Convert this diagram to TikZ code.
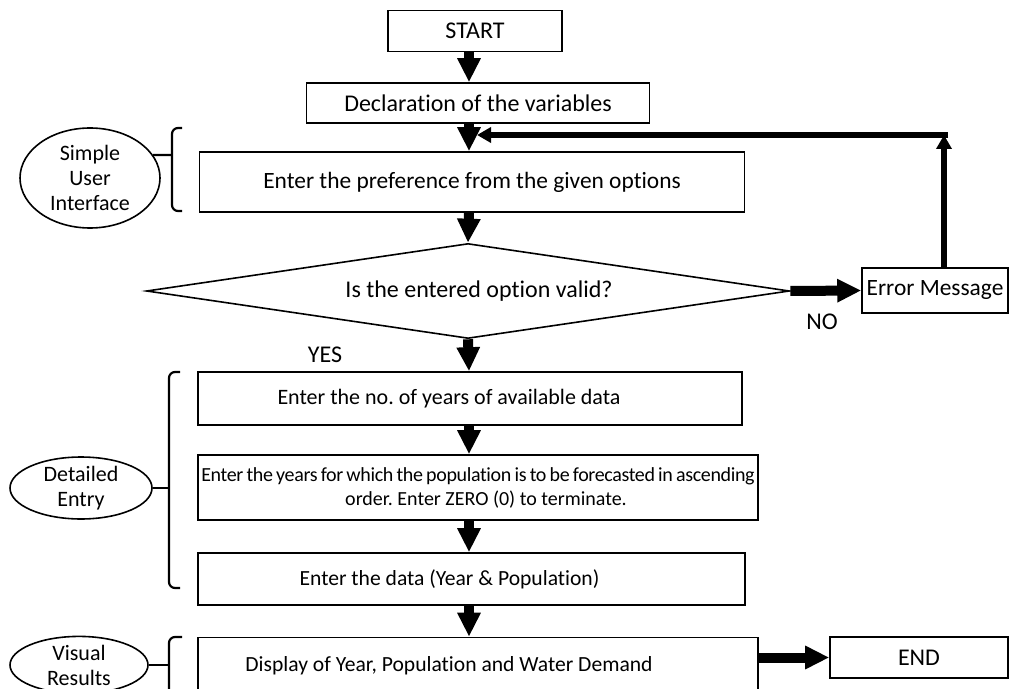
\documentclass[tikz,border=0pt]{standalone}
\usepackage{fontspec}
\setmainfont{Carlito}[Ligatures=NoCommon]
\usepackage{tikz}
\usetikzlibrary{arrows.meta,positioning,shapes.geometric}
\newcommand{\fs}[1]{\fontsize{#1}{1.2\dimexpr#1pt\relax}\selectfont\frenchspacing}
\newcommand{\tight}[1]{{\addfontfeature{LetterSpace=-1.8}\spaceskip=0.16em\relax #1}}
\tikzset{
  pbox/.style={draw,line width=0.8pt,align=center,font=\fs{12},inner sep=1.5pt},
  tag/.style={draw,ellipse,line width=0.8pt,align=center,font=\fontsize{11}{12.5}\selectfont,inner sep=0pt},
  flow/.style={-{Triangle[length=12pt,width=11pt]},line width=5pt},
  fback/.style={-{Triangle[length=7pt,width=7.5pt]},line width=3pt},
  brk/.style={line width=1.1pt,rounded corners=3pt},
  lbl/.style={font=\fs{12},inner sep=1pt},
}
\begin{document}
\begin{tikzpicture}[x=0.5pt,y=-0.5pt]
  \useasboundingbox (0,0) rectangle (1010,689);
  % main column
  \node[pbox,minimum width=87pt,minimum height=20.5pt] (start) at (475,31) {START};
  \node[pbox,minimum width=171.5pt,minimum height=20pt] (decl) at (478,103) {Declaration of the variables};
  \node[pbox,minimum width=272.5pt,minimum height=30pt,font=\fs{11.7}] (pref) at (472,182) {Enter the preference from the given options};
  \node[pbox,diamond,aspect=6.77,minimum width=321.5pt,minimum height=47.5pt,inner sep=0pt] (valid) at (468,291) {\hspace*{11pt}Is the entered option valid?};
  \node[pbox,minimum width=73pt,minimum height=22.5pt,font=\fs{11.7}] (err) at (935,290.5) {Error Message};
  \node[pbox,minimum width=272pt,minimum height=26.5pt,font=\fs{11}] (years) at (470,398.5) {Enter the no. of years of available data\hspace*{21pt}};
  \node[pbox,minimum width=280pt,minimum height=32.5pt,font=\fs{10},inner sep=1pt] (fcast) at (478,487.5) {\tight{Enter the years for which the population is to be forecasted in ascending}\\ \hspace*{8pt}order. Enter ZERO (0) to terminate.};
  \node[pbox,minimum width=273.5pt,minimum height=26pt,font=\fs{10.8}] (data) at (471.5,579) {Enter the data (Year \& Population)\hspace*{22pt}};
  \node[pbox,minimum width=280pt,minimum height=31pt,font=\fs{10.8}] (show) at (478,668.5) {\raisebox{5pt}{Display of Year, Population and Water Demand}\hspace*{29pt}};
  \node[pbox,minimum width=89pt,minimum height=20.5pt] (end) at (919,657.5) {END};
  \coordinate (spine) at (469,0);
  \coordinate (loop) at (944,135);
  % connectors
  \draw[flow] (spine |- start.south) -- (spine |- decl.north);
  \draw[flow] (spine |- decl.south) -- (spine |- pref.north);
  \draw[flow] (spine |- pref.south) -- (valid.north);
  \draw[flow] (valid.east) -- (err.west);
  \draw[flow] (valid.south) -- (spine |- years.north);
  \draw[flow] (spine |- years.south) -- (spine |- fcast.north);
  \draw[flow] (spine |- fcast.south) -- (spine |- data.north);
  \draw[flow] (spine |- data.south) -- (spine |- show.north);
  \draw[flow] (show.east |- end.west) -- (end.west);
  \draw[fback] (loop |- err.north) -- (loop);
  \draw[fback] ([xshift=2pt]loop) -- ([xshift=4pt]spine |- loop);
  \node[lbl] (no) at (822,322) {NO};
  \node[lbl] (yes) at (325,355) {YES};
  % side tags
  \node[tag,minimum width=70pt,minimum height=50pt] (ui) at (90,178) {Simple\\User\\Interface};
  \node[tag,minimum width=71pt,minimum height=28.5pt] (detail) at (81,488) {Detailed\\Entry};
  \node[tag,minimum width=69pt,minimum height=28pt] (visual) at (79,665) {Visual\\Results};
  \draw[brk] (182,128) -- (172,128) -- (172,211) -- (182,211);
  \draw[brk] (ui.20) -- (172,155);
  \draw[brk] (180,372) -- (169,372) -- (169,588) -- (180,588);
  \draw[brk] (detail.east) -- (169,488);
  \draw[brk] (182,637) -- (169,637) -- (169,700);
  \draw[brk] (visual.east) -- (169,665);
\end{tikzpicture}
\end{document}
